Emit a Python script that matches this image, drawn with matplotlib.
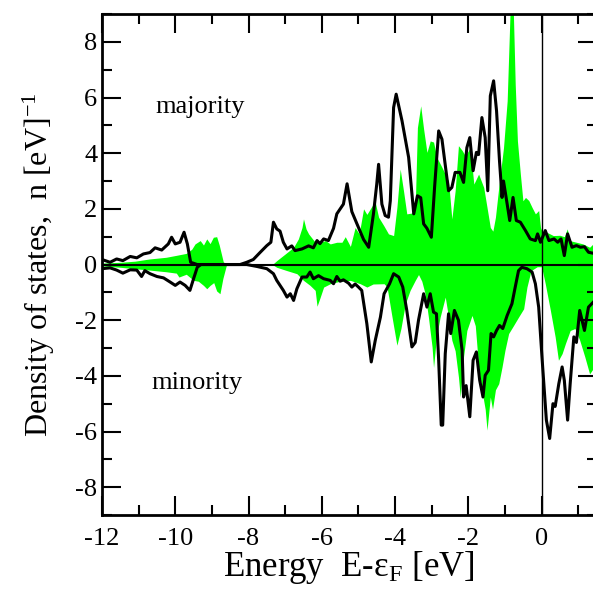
import numpy as np
import matplotlib
matplotlib.use("Agg")
import matplotlib.pyplot as plt
from matplotlib.ticker import MultipleLocator

plt.rcParams["font.family"] = ["Liberation Serif", "DejaVu Serif"]
plt.rcParams["mathtext.fontset"] = "custom"
plt.rcParams["mathtext.rm"] = "Liberation Serif"
plt.rcParams["mathtext.it"] = "Liberation Serif:italic"
plt.rcParams["axes.unicode_minus"] = False

# green DOS, majority spin (E, n)
e_green_up = [-12.0, -11.5, -11.1, -10.7, -10.25, -9.97, -9.7, -9.55, -9.46, -9.32, -9.23, -9.14, -9.05,
              -8.96, -8.87, -8.8, -8.69, -8.6, -7.35, -7.23, -6.95, -6.77, -6.64, -6.54, -6.5, -6.43, -6.36,
              -6.27, -6.18, -6.05, -5.9, -5.77, -5.59, -5.45, -5.36, -5.22, -5.09, -4.98, -4.86, -4.77, -4.63,
              -4.54, -4.45, -4.31, -4.18, -4.04, -3.95, -3.86, -3.77, -3.68, -3.54, -3.45, -3.39, -3.3, -3.22,
              -3.13, -3.04, -2.95, -2.86, -2.72, -2.54, -2.45, -2.36, -2.27, -2.17, -2.08, -1.95, -1.85, -1.72,
              -1.58, -1.49, -1.4, -1.33, -1.26, -1.17, -1.04, -0.94, -0.85, -0.78, -0.72, -0.66, -0.58, -0.51,
              -0.44, -0.35, -0.26, -0.17, -0.08, -0.03, 0.01, 0.14, 0.32, 0.5, 0.62, 0.7, 0.77, 0.95, 1.13,
              1.31, 1.5]
n_green_up = [0.05, 0.08, 0.12, 0.2, 0.26, 0.33, 0.4, 0.55, 0.74, 0.86, 0.7, 0.92, 0.75,
              0.98, 1.0, 0.7, 0.1, 0.0, 0.0, 0.14, 0.43, 0.62, 0.92, 1.33, 1.64, 1.28, 1.1,
              0.95, 0.8, 0.8, 0.86, 0.74, 0.8, 0.8, 1.0, 0.65, 1.33, 1.1, 2.0, 1.8, 2.1,
              2.23, 1.7, 1.4, 1.1, 1.04, 2.05, 3.43, 2.65, 1.82, 1.85, 2.05, 4.92, 5.7, 4.86,
              4.03, 4.44, 4.4, 3.85, 3.49, 3.0, 1.64, 2.65, 4.27, 4.1, 3.9, 4.2, 2.89, 3.25,
              2.77, 2.05, 1.33, 1.2, 1.7, 2.77, 4.2, 5.88, 9.5, 9.5, 6.47, 4.44, 3.25, 2.29,
              2.41, 2.3, 2.05, 1.82, 1.94, 1.33, 1.2, 1.16, 1.04, 1.05, 1.0, 1.28, 0.86, 0.8, 0.74,
              0.62, 0.86]

# green DOS, minority spin (E, n)
e_green_dn = [-12.0, -11.5, -11.1, -10.7, -10.25, -9.97, -9.9, -9.7, -9.5, -9.37, -9.23, -9.14, -9.05,
              -8.95, -8.87, -8.78, -8.7, -8.6, -7.35, -7.23, -6.95, -6.68, -6.5, -6.32, -6.18, -6.13, -6.05,
              -5.95, -5.77, -5.5, -5.22, -4.95, -4.77, -4.6, -4.3, -4.22, -4.09, -3.95, -3.84, -3.72, -3.59,
              -3.45, -3.36, -3.27, -3.18, -3.09, -2.99, -2.95, -2.87, -2.77, -2.63, -2.54, -2.45, -2.36, -2.27,
              -2.22, -2.13, -2.04, -1.9, -1.81, -1.72, -1.63, -1.54, -1.49, -1.4, -1.34, -1.26, -1.17, -1.08,
              -1.0, -0.9, -0.77, -0.63, -0.49, -0.4, -0.29, -0.12, 0.0, 0.1, 0.24, 0.37, 0.46, 0.56, 0.65,
              0.78, 0.91, 1.04, 1.18, 1.31, 1.5]
n_green_dn = [-0.05, -0.1, -0.15, -0.2, -0.26, -0.31, -0.45, -0.35, -0.57, -0.6, -0.75, -0.87, -0.75,
              -0.65, -0.95, -1.05, -0.5, 0.0, 0.0, -0.1, -0.22, -0.33, -0.57, -0.75, -0.93, -1.5, -1.2,
              -0.81, -0.69, -0.6, -0.57, -0.69, -0.81, -0.7, -0.69, -0.8, -1.83, -2.9, -2.3, -1.41, -0.93,
              -0.57, -0.36, -0.6, -1.05, -1.89, -2.96, -3.7, -2.6, -1.89, -1.17, -1.9, -2.72, -3.1, -4.04,
              -4.76, -3.3, -2.37, -1.83, -2.2, -3.68, -4.52, -5.2, -5.95, -4.76, -5.2, -4.5, -4.28, -3.68,
              -3.08, -2.48, -2.2, -1.89, -1.59, -0.81, -0.22, -0.08, -0.08, -0.69, -1.65, -2.6, -3.44, -3.2, -2.84,
              -2.37, -2.3, -2.72, -3.32, -3.93, -3.56]

# black DOS, majority spin (E, n)
e_black_up = [-12.0, -11.78, -11.6, -11.43, -11.23, -11.05, -10.87, -10.69, -10.55, -10.37, -10.19, -10.1,
              -10.0, -9.87, -9.76, -9.67, -9.58, -9.4, -8.23, -8.05, -7.87, -7.68, -7.5, -7.39, -7.32, -7.23,
              -7.14, -7.05, -6.95, -6.82, -6.73, -6.54, -6.36, -6.23, -6.13, -6.05, -5.95, -5.82, -5.68, -5.59,
              -5.41, -5.31, -5.18, -5.04, -4.86, -4.72, -4.59, -4.5, -4.45, -4.36, -4.27, -4.18, -4.13, -4.04,
              -3.97, -3.81, -3.63, -3.49, -3.39, -3.3, -3.22, -3.13, -3.01, -2.92, -2.81, -2.72, -2.54, -2.45,
              -2.36, -2.23, -2.13, -2.04, -1.96, -1.87, -1.78, -1.72, -1.63, -1.54, -1.47, -1.4, -1.31, -1.23,
              -1.15, -1.08, -1.04, -0.94, -0.87, -0.78, -0.69, -0.58, -0.44, -0.31, -0.17, -0.11, -0.03, 0.1,
              0.2, 0.34, 0.44, 0.53, 0.62, 0.71, 0.83, 0.95, 1.06, 1.17, 1.28, 1.5]
n_black_up = [0.18, 0.08, 0.2, 0.14, 0.29, 0.24, 0.38, 0.43, 0.6, 0.52, 0.74, 0.98,
              0.74, 0.8, 1.16, 0.74, 0.08, 0.0, 0.0, 0.08, 0.18, 0.44, 0.68, 0.8, 1.52, 1.28,
              1.2, 0.8, 0.56, 0.67, 0.5, 0.56, 0.67, 0.6, 0.86, 0.75, 0.92, 0.86, 1.3, 1.82,
              2.17, 2.9, 1.9, 1.46, 0.9, 0.62, 1.82, 2.89, 3.6, 2.17, 1.76, 1.7, 2.29, 5.64,
              6.12, 5.16, 3.85, 1.82, 2.47, 2.4, 1.46, 1.3, 0.98, 2.8, 4.8, 4.5, 2.65, 2.77,
              3.31, 3.31, 2.95, 4.2, 4.56, 3.37, 4.03, 3.95, 5.28, 4.56, 2.65, 6.06, 6.6, 5.52,
              3.73, 2.41, 3.0, 2.17, 1.58, 2.41, 1.58, 1.52, 1.22, 0.92, 0.86, 1.1, 0.8, 1.22,
              0.86, 0.92, 0.8, 0.92, 0.32, 1.1, 0.62, 0.68, 0.62, 0.64, 0.44, 0.38]

# black DOS, minority spin (E, n)
e_black_dn = [-12.0, -11.78, -11.6, -11.43, -11.23, -11.05, -10.92, -10.83, -10.69, -10.5, -10.32, -10.14,
              -10.0, -9.87, -9.73, -9.6, -9.5, -9.4, -9.3, -8.05, -7.77, -7.5, -7.32, -7.23, -7.05, -6.95,
              -6.86, -6.77, -6.68, -6.54, -6.41, -6.32, -6.23, -6.09, -5.95, -5.77, -5.68, -5.59, -5.5, -5.41,
              -5.27, -5.18, -5.09, -5.0, -4.91, -4.77, -4.65, -4.54, -4.4, -4.3, -4.15, -4.04, -3.9, -3.79,
              -3.68, -3.54, -3.45, -3.36, -3.22, -3.13, -3.04, -2.95, -2.87, -2.81, -2.74, -2.7, -2.63, -2.54,
              -2.48, -2.38, -2.27, -2.17, -2.13, -2.06, -1.96, -1.87, -1.78, -1.69, -1.6, -1.54, -1.45, -1.38,
              -1.31, -1.23, -1.15, -1.06, -0.94, -0.81, -0.72, -0.63, -0.54, -0.4, -0.26, -0.17, -0.08, 0.01,
              0.13, 0.22, 0.31, 0.37, 0.47, 0.56, 0.62, 0.71, 0.78, 0.88, 0.95, 1.04, 1.17, 1.28, 1.5]
n_black_dn = [-0.15, -0.12, -0.2, -0.31, -0.19, -0.2, -0.43, -0.22, -0.33, -0.43, -0.48, -0.63,
              -0.75, -0.63, -0.75, -0.93, -0.51, -0.1, 0.0, 0.0, -0.07, -0.15, -0.33, -0.57, -0.93, -1.17,
              -1.05, -1.29, -0.87, -0.45, -0.45, -0.27, -0.51, -0.4, -0.51, -0.57, -0.69, -0.43, -0.6, -0.55,
              -0.67, -0.81, -0.7, -0.81, -0.93, -2.13, -3.5, -2.72, -1.89, -1.05, -0.69, -0.33, -0.45, -0.81,
              -1.65, -2.96, -2.8, -2.0, -1.05, -1.53, -1.05, -1.71, -1.77, -3.44, -5.77, -5.77, -3.2, -1.77,
              -2.48, -1.65, -2.0, -3.08, -4.76, -4.35, -5.47, -3.44, -3.14, -4.16, -4.76, -3.98, -3.8, -2.48,
              -2.6, -2.37, -2.19, -2.3, -1.83, -1.41, -0.81, -0.22, -0.1, -0.15, -0.27, -0.69, -1.53, -3.32,
              -5.59, -6.25, -5.0, -5.1, -4.28, -3.68, -4.16, -5.59, -4.28, -2.6, -2.8, -1.65, -2.37, -1.53, -1.23]

fig = plt.figure(figsize=(5.93, 5.89), dpi=100)
ax = fig.add_axes([0.172, 0.1256, 0.834, 0.8506])

# green areas
ax.fill_between(e_green_up, n_green_up, 0, color="#00ff00", linewidth=0)
ax.fill_between(e_green_dn, n_green_dn, 0, color="#00ff00", linewidth=0)

# black curves
ax.plot(e_black_up, n_black_up, color="black", linewidth=2.2)
ax.plot(e_black_dn, n_black_dn, color="black", linewidth=2.2)

# zero lines
ax.axhline(0, color="black", linewidth=1.5)
ax.axvline(0, color="black", linewidth=1.0)

ax.text(-9.32, 5.66, "majority", fontsize=19, ha="center", va="center")
ax.text(-9.4, -4.27, "minority", fontsize=19, ha="center", va="center")

ax.set_xlim(-12, 1.5)
ax.set_ylim(-9, 9)
ax.set_xticks(np.arange(-12, 1, 2))
ax.set_yticks(np.arange(-8, 9, 2))
ax.xaxis.set_minor_locator(MultipleLocator(1))
ax.yaxis.set_minor_locator(MultipleLocator(1))
ax.tick_params(which="both", direction="in", top=True, right=True, labelsize=19)
ax.tick_params(which="major", length=14, width=1.5)
ax.tick_params(which="minor", length=7, width=1.5)
ax.tick_params(axis="x", pad=9)
ax.tick_params(axis="y", pad=3.5)
for s in ax.spines.values():
    s.set_linewidth(2)

ax.set_xlabel("Energy  E-ε$_\\mathrm{F}$ [eV]", fontsize=25)
ax.set_ylabel("Density of states,  n [eV]$^{-1}$", fontsize=23)
ax.xaxis.set_label_coords(0.5, -0.068)
ax.yaxis.set_label_coords(-0.09, 0.5)

plt.savefig("out.png", dpi=100)
